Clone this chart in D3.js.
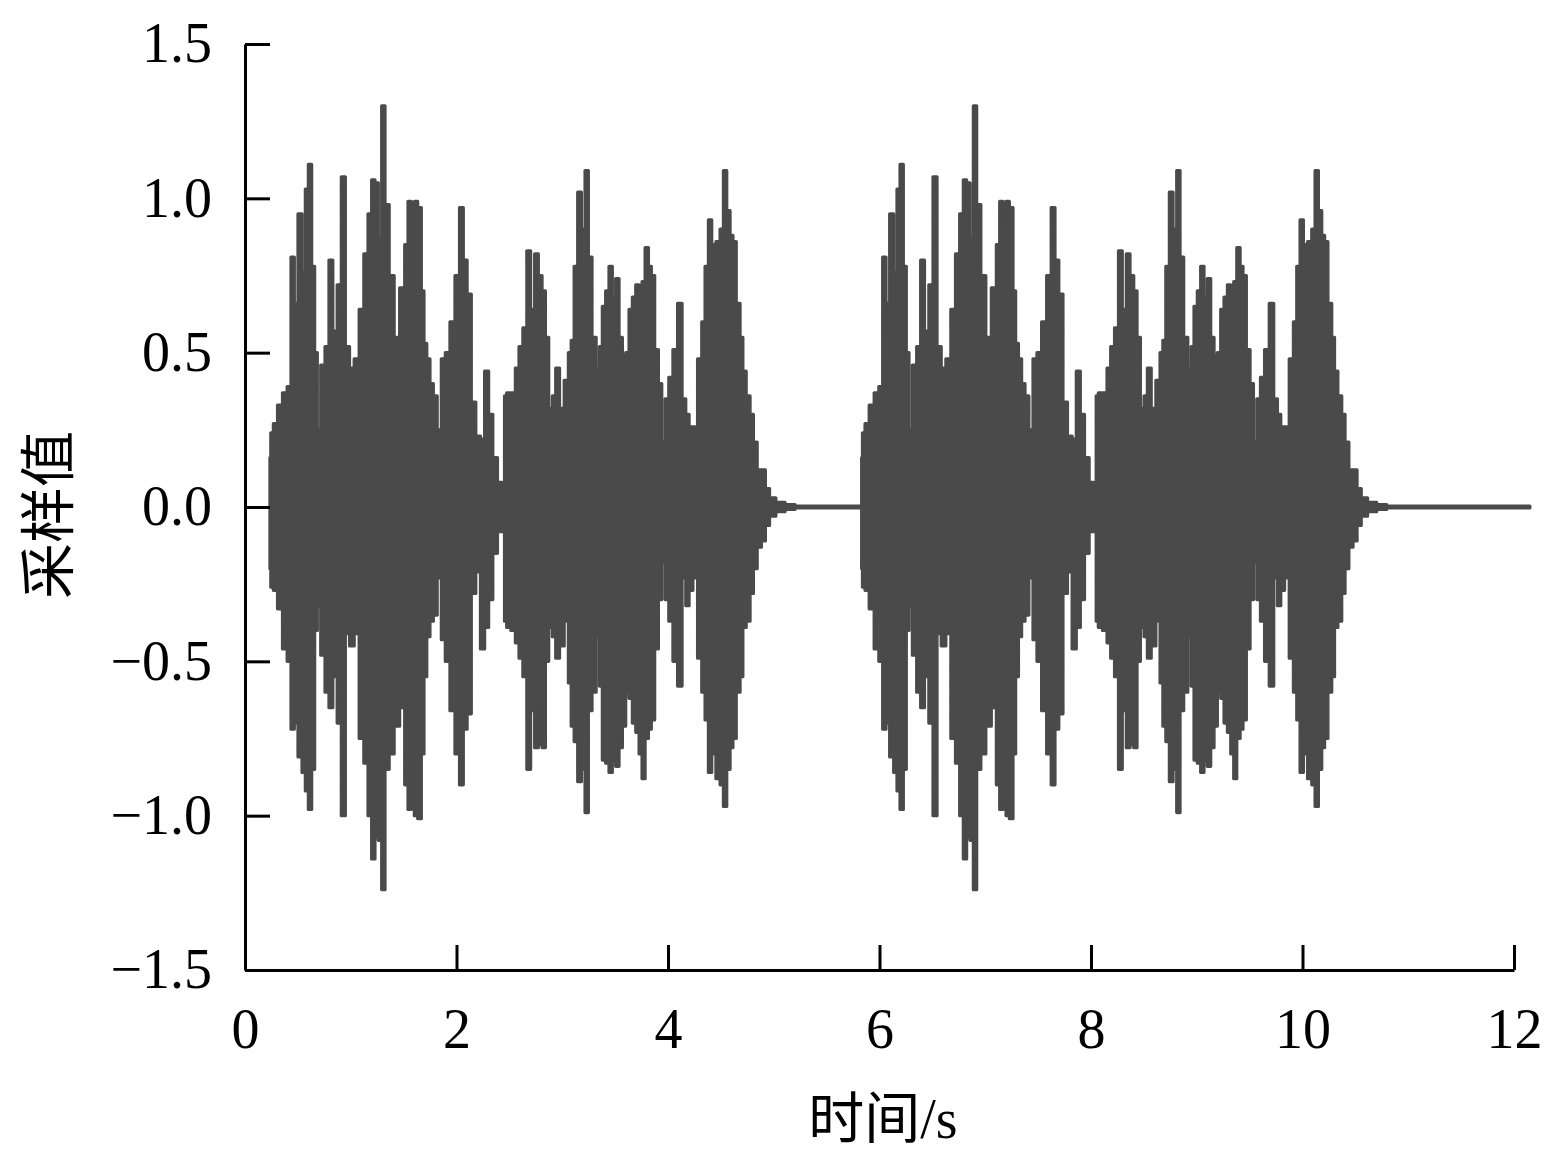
<!DOCTYPE html>
<html><head><meta charset="utf-8">
<script src="https://cdn.jsdelivr.net/npm/d3@7"></script>
<style>
html,body{margin:0;padding:0;background:#fff;}
svg{display:block;}
.axis text{font-family:"Liberation Serif","Times New Roman",serif;font-size:56px;fill:#000;}
</style></head>
<body>
<svg id="chart" width="1549" height="1157"></svg>
<script>
// ---- axis ticks ----
const xTicks = [0, 2, 4, 6, 8, 10, 12];
const yTicks = [-1.5, -1.0, -0.5, 0.0, 0.5, 1.0, 1.5];
const xTitle = "时间/s";
const yTitle = "采样值";

// ---- first burst: time (s), upper and lower sample envelope ----
const time1 = [0.236,0.252,0.284,0.331,0.378,0.419,0.451,0.482,0.520,0.558,0.583,0.615,0.646,0.671,0.697,0.735,0.778,0.810,0.851,0.892,0.930,0.968,1.009,1.056,1.103,1.144,1.182,1.213,1.245,1.277,1.308,1.340,1.387,1.434,1.491,1.529,1.554,1.592,1.611,1.655,1.680,1.705,1.733,1.765,1.797,1.838,1.875,1.913,1.963,2.008,2.049,2.080,2.121,2.159,2.206,2.247,2.285,2.323,2.364,2.411,2.449,2.459,2.490,2.538,2.575,2.607,2.648,2.682,2.720,2.758,2.790,2.828,2.853,2.891,2.922,2.954,2.995,3.042,3.074,3.095,3.130,3.162,3.200,3.231,3.263,3.300,3.341,3.363,3.395,3.426,3.458,3.489,3.521,3.553,3.584,3.616,3.647,3.679,3.711,3.742,3.767,3.800,3.830,3.855,3.893,3.925,3.957,3.989,4.026,4.067,4.114,4.152,4.184,4.215,4.256,4.303,4.335,4.366,4.398,4.429,4.477,4.508,4.540,4.571,4.603,4.625,4.666,4.697,4.719,4.760,4.792,4.823,4.864,4.902,4.940,4.981,5.059,5.154,5.248,5.831];
const upper1 = [0.16,0.24,0.27,0.33,0.37,0.39,0.81,0.66,0.95,0.76,1.03,1.11,0.78,0.50,0.25,0.46,0.52,0.80,0.57,0.72,1.07,0.52,0.45,0.48,0.64,0.82,0.95,1.06,1.05,0.87,1.30,0.98,0.75,0.55,0.71,0.85,0.99,0.90,0.99,0.97,0.70,0.53,0.48,0.40,0.36,0.25,0.48,0.50,0.60,0.75,0.97,0.80,0.69,0.34,0.23,0.22,0.44,0.30,0.16,0.08,0.02,0.36,0.37,0.37,0.45,0.52,0.58,0.83,0.64,0.82,0.75,0.70,0.55,0.32,0.36,0.45,0.32,0.41,0.50,0.54,0.78,1.02,0.90,1.09,0.81,0.55,0.45,0.52,0.65,0.70,0.78,0.68,0.74,0.55,0.49,0.50,0.64,0.68,0.72,0.71,0.73,0.84,0.78,0.75,0.51,0.40,0.21,0.35,0.42,0.51,0.66,0.35,0.30,0.26,0.26,0.48,0.60,0.78,0.93,0.85,0.86,0.90,1.09,0.96,0.88,0.86,0.66,0.55,0.44,0.36,0.30,0.21,0.12,0.12,0.06,0.03,0.015,0.008,0.003,0.003];
const lower1 = [-0.20,-0.26,-0.27,-0.33,-0.46,-0.50,-0.72,-0.70,-0.81,-0.86,-0.92,-0.98,-0.85,-0.40,-0.32,-0.48,-0.60,-0.65,-0.55,-0.70,-1.00,-0.41,-0.45,-0.41,-0.75,-0.83,-1.00,-1.14,-1.07,-1.08,-1.24,-0.85,-0.80,-0.71,-0.65,-0.90,-0.98,-0.95,-1.00,-1.01,-0.80,-0.55,-0.42,-0.37,-0.35,-0.23,-0.43,-0.50,-0.66,-0.80,-0.90,-0.72,-0.67,-0.28,-0.21,-0.46,-0.39,-0.30,-0.15,-0.08,-0.02,-0.37,-0.39,-0.40,-0.44,-0.49,-0.55,-0.85,-0.66,-0.78,-0.77,-0.78,-0.50,-0.39,-0.42,-0.49,-0.45,-0.37,-0.57,-0.71,-0.76,-0.89,-0.85,-0.99,-0.66,-0.60,-0.42,-0.58,-0.82,-0.83,-0.86,-0.82,-0.84,-0.78,-0.71,-0.60,-0.62,-0.70,-0.73,-0.80,-0.88,-0.75,-0.72,-0.69,-0.46,-0.30,-0.18,-0.30,-0.37,-0.50,-0.58,-0.23,-0.32,-0.27,-0.23,-0.49,-0.60,-0.69,-0.86,-0.80,-0.88,-0.90,-0.97,-0.85,-0.78,-0.75,-0.60,-0.55,-0.39,-0.37,-0.28,-0.20,-0.13,-0.11,-0.06,-0.03,-0.015,-0.008,-0.003,-0.003];

// ---- second burst (repeat of the utterance) ----
const time2 = [5.831,5.847,5.879,5.926,5.973,6.014,6.046,6.077,6.115,6.153,6.178,6.210,6.241,6.266,6.292,6.330,6.373,6.405,6.446,6.487,6.525,6.563,6.604,6.651,6.698,6.739,6.777,6.808,6.840,6.872,6.903,6.935,6.982,7.029,7.086,7.124,7.149,7.187,7.206,7.250,7.275,7.300,7.328,7.360,7.392,7.433,7.470,7.508,7.558,7.603,7.644,7.675,7.716,7.754,7.801,7.842,7.880,7.918,7.959,8.006,8.044,8.054,8.085,8.133,8.170,8.202,8.243,8.277,8.315,8.353,8.385,8.423,8.448,8.486,8.517,8.549,8.590,8.637,8.669,8.690,8.725,8.757,8.795,8.826,8.858,8.895,8.936,8.958,8.990,9.021,9.053,9.084,9.116,9.148,9.179,9.211,9.242,9.274,9.306,9.337,9.362,9.395,9.425,9.450,9.488,9.520,9.552,9.584,9.621,9.662,9.709,9.747,9.779,9.810,9.851,9.898,9.930,9.961,9.993,10.024,10.072,10.103,10.135,10.166,10.198,10.220,10.261,10.292,10.314,10.355,10.387,10.418,10.459,10.497,10.535,10.576,10.654,10.749,10.843,12.150];
const upper2 = [0.16,0.24,0.27,0.33,0.37,0.39,0.81,0.66,0.95,0.76,1.03,1.11,0.78,0.50,0.25,0.46,0.52,0.80,0.57,0.72,1.07,0.52,0.45,0.48,0.64,0.82,0.95,1.06,1.05,0.87,1.30,0.98,0.75,0.55,0.71,0.85,0.99,0.90,0.99,0.97,0.70,0.53,0.48,0.40,0.36,0.25,0.48,0.50,0.60,0.75,0.97,0.80,0.69,0.34,0.23,0.22,0.44,0.30,0.16,0.08,0.02,0.36,0.37,0.37,0.45,0.52,0.58,0.83,0.64,0.82,0.75,0.70,0.55,0.32,0.36,0.45,0.32,0.41,0.50,0.54,0.78,1.02,0.90,1.09,0.81,0.55,0.45,0.52,0.65,0.70,0.78,0.68,0.74,0.55,0.49,0.50,0.64,0.68,0.72,0.71,0.73,0.84,0.78,0.75,0.51,0.40,0.21,0.35,0.42,0.51,0.66,0.35,0.30,0.26,0.26,0.48,0.60,0.78,0.93,0.85,0.86,0.90,1.09,0.96,0.88,0.86,0.66,0.55,0.44,0.36,0.30,0.21,0.12,0.12,0.06,0.03,0.015,0.008,0.003,0.003];
const lower2 = [-0.20,-0.26,-0.27,-0.33,-0.46,-0.50,-0.72,-0.70,-0.81,-0.86,-0.92,-0.98,-0.85,-0.40,-0.32,-0.48,-0.60,-0.65,-0.55,-0.70,-1.00,-0.41,-0.45,-0.41,-0.75,-0.83,-1.00,-1.14,-1.07,-1.08,-1.24,-0.85,-0.80,-0.71,-0.65,-0.90,-0.98,-0.95,-1.00,-1.01,-0.80,-0.55,-0.42,-0.37,-0.35,-0.23,-0.43,-0.50,-0.66,-0.80,-0.90,-0.72,-0.67,-0.28,-0.21,-0.46,-0.39,-0.30,-0.15,-0.08,-0.02,-0.37,-0.39,-0.40,-0.44,-0.49,-0.55,-0.85,-0.66,-0.78,-0.77,-0.78,-0.50,-0.39,-0.42,-0.49,-0.45,-0.37,-0.57,-0.71,-0.76,-0.89,-0.85,-0.99,-0.66,-0.60,-0.42,-0.58,-0.82,-0.83,-0.86,-0.82,-0.84,-0.78,-0.71,-0.60,-0.62,-0.70,-0.73,-0.80,-0.88,-0.75,-0.72,-0.69,-0.46,-0.30,-0.18,-0.30,-0.37,-0.50,-0.58,-0.23,-0.32,-0.27,-0.23,-0.49,-0.60,-0.69,-0.86,-0.80,-0.88,-0.90,-0.97,-0.85,-0.78,-0.75,-0.60,-0.55,-0.39,-0.37,-0.28,-0.20,-0.13,-0.11,-0.06,-0.03,-0.015,-0.008,-0.003,-0.003];

// ---- layout ----
const svg = d3.select("#chart");
const mLeft = 245, mRight = 1514, mTop = 44, mBottom = 970;
const x = d3.scaleLinear().domain([0, 12]).range([mLeft, mRight]);
const y = d3.scaleLinear().domain([-1.5, 1.5]).range([mBottom, mTop]);
const waveColor = "#4a4a4a";

function burst(t, hi, lo) {
  return t.map((v, i) => ({t: v, hi: hi[i], lo: lo[i]}));
}
const area = d3.area()
  .x(d => x(d.t)).y0(d => y(d.lo)).y1(d => y(d.hi))
  .curve(d3.curveStep);

[burst(time1, upper1, lower1), burst(time2, upper2, lower2)].forEach(data => {
  svg.append("path").datum(data)
    .attr("d", area)
    .attr("fill", waveColor)
    .attr("stroke", waveColor)
    .attr("stroke-width", 3.2)
    .attr("stroke-linejoin", "round")
    .attr("stroke-linecap", "round");
});

// ---- axes (ticks point inward) ----
svg.append("g").attr("class", "axis")
  .attr("transform", `translate(0,${mBottom})`)
  .call(d3.axisBottom(x).tickValues(xTicks).tickFormat(d3.format("d"))
        .tickSize(-25).tickSizeOuter(0).tickPadding(38));
svg.append("g").attr("class", "axis")
  .attr("transform", `translate(${mLeft},0)`)
  .call(d3.axisLeft(y).tickValues(yTicks).tickFormat(d3.format(".1f"))
        .tickSize(-25).tickSizeOuter(0).tickPadding(33));
svg.selectAll(".axis path.domain").attr("stroke", "#000").attr("stroke-width", 3);
svg.selectAll(".axis .tick line").attr("stroke", "#000").attr("stroke-width", 3);
svg.selectAll(".axis").attr("font-family", null).attr("font-size", null);

// ---- titles ----
svg.append("text")
  .attr("x", 883).attr("y", 1138)
  .attr("text-anchor", "middle")
  .style("font-family", "'Liberation Serif','Noto Sans CJK SC',serif")
  .style("font-size", "56px")
  .text(xTitle);
svg.append("text")
  .attr("transform", "translate(43,515) rotate(-90)")
  .attr("text-anchor", "middle")
  .attr("dominant-baseline", "central")
  .style("font-family", "'Noto Sans CJK SC',sans-serif")
  .style("font-size", "56px")
  .text(yTitle);
</script>
</body></html>
